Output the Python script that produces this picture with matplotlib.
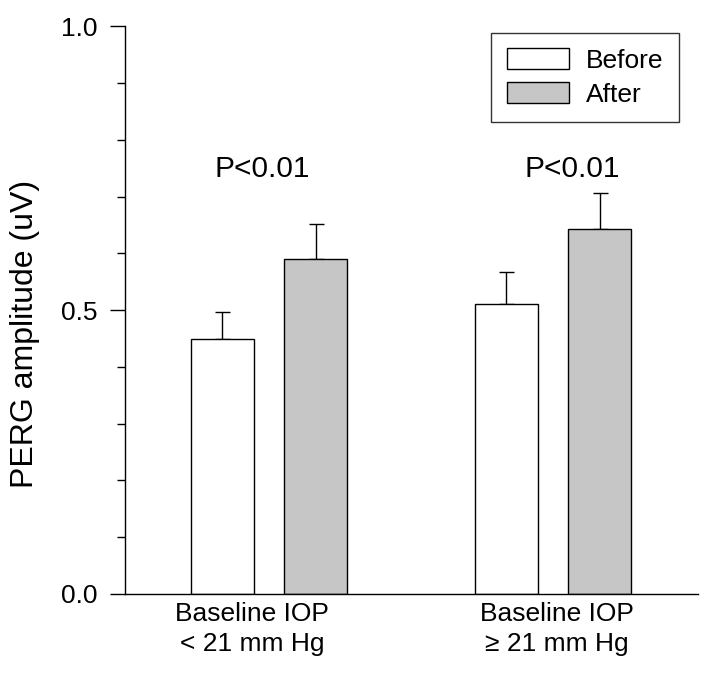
import matplotlib
matplotlib.use("Agg")
import matplotlib.pyplot as plt
import numpy as np

plt.rcParams['font.family'] = ['Liberation Sans', 'DejaVu Sans']

# data
groups = ["Baseline IOP\n< 21 mm Hg", "Baseline IOP\n\u2265 21 mm Hg"]
before = [0.449, 0.511]
before_err = [0.047, 0.056]
after = [0.590, 0.643]
after_err = [0.061, 0.063]
p_labels = ["P<0.01", "P<0.01"]

x = np.arange(len(groups))
w = 0.222
off = 0.165

fig = plt.figure(figsize=(7.15, 6.93), dpi=100)
ax = fig.add_axes([0.175, 0.143, 0.801, 0.819])

ax.bar(x - off, before, w, color="white", edgecolor="black", linewidth=1.0,
       label="Before", zorder=2)
ax.bar(x + off, after, w, color="#c6c6c6", edgecolor="black", linewidth=1.0,
       label="After", zorder=2)

# upper error bars only
ax.errorbar(x - off, before, yerr=[np.zeros(len(x)), before_err], fmt="none",
            ecolor="black", elinewidth=1.0, capsize=5.4, capthick=1.0, zorder=1)
ax.errorbar(x + off, after, yerr=[np.zeros(len(x)), after_err], fmt="none",
            ecolor="black", elinewidth=1.0, capsize=5.4, capthick=1.0, zorder=1)

# p-value and group labels sit a little off-centre in the original
p_shift = [-0.025, 0.067]
label_shift = [-0.06, 0.014]
for xi, p, dx in zip(x, p_labels, p_shift):
    ax.text(xi + dx, 0.734, p, ha="center", va="baseline", fontsize=21.5)

ax.set_xlim(-0.507, 1.51)
ax.set_ylim(0, 1.0)
ax.set_yticks([0.0, 0.5, 1.0])
ax.set_yticklabels(["0.0", "0.5", "1.0"], fontsize=19)
ax.set_yticks(np.arange(0.1, 1.0, 0.1), minor=True)
ax.tick_params(axis="y", which="major", length=11, width=1.0, pad=9)
ax.tick_params(axis="y", which="minor", length=6, width=1.0)

ax.set_xticks(x + np.array(label_shift))
ax.set_xticklabels(groups, fontsize=19, linespacing=1.3)
ax.tick_params(axis="x", length=0, pad=6)

ax.set_ylabel("PERG amplitude (uV)", fontsize=23)
ax.yaxis.set_label_coords(-0.148, 0.458)

for s in ["top", "right"]:
    ax.spines[s].set_visible(False)
ax.spines["left"].set_linewidth(1.0)
ax.spines["bottom"].set_linewidth(1.0)

leg = ax.legend(loc="upper right", bbox_to_anchor=(0.967, 0.989), borderaxespad=0,
                fontsize=19, frameon=True, fancybox=False, shadow=False,
                handlelength=2.35, handleheight=0.83, handletextpad=0.64,
                borderpad=0.6, labelspacing=0.35)
leg.get_frame().set_edgecolor("black")
leg.get_frame().set_linewidth(1.0)

fig.savefig("out.png", dpi=100)
